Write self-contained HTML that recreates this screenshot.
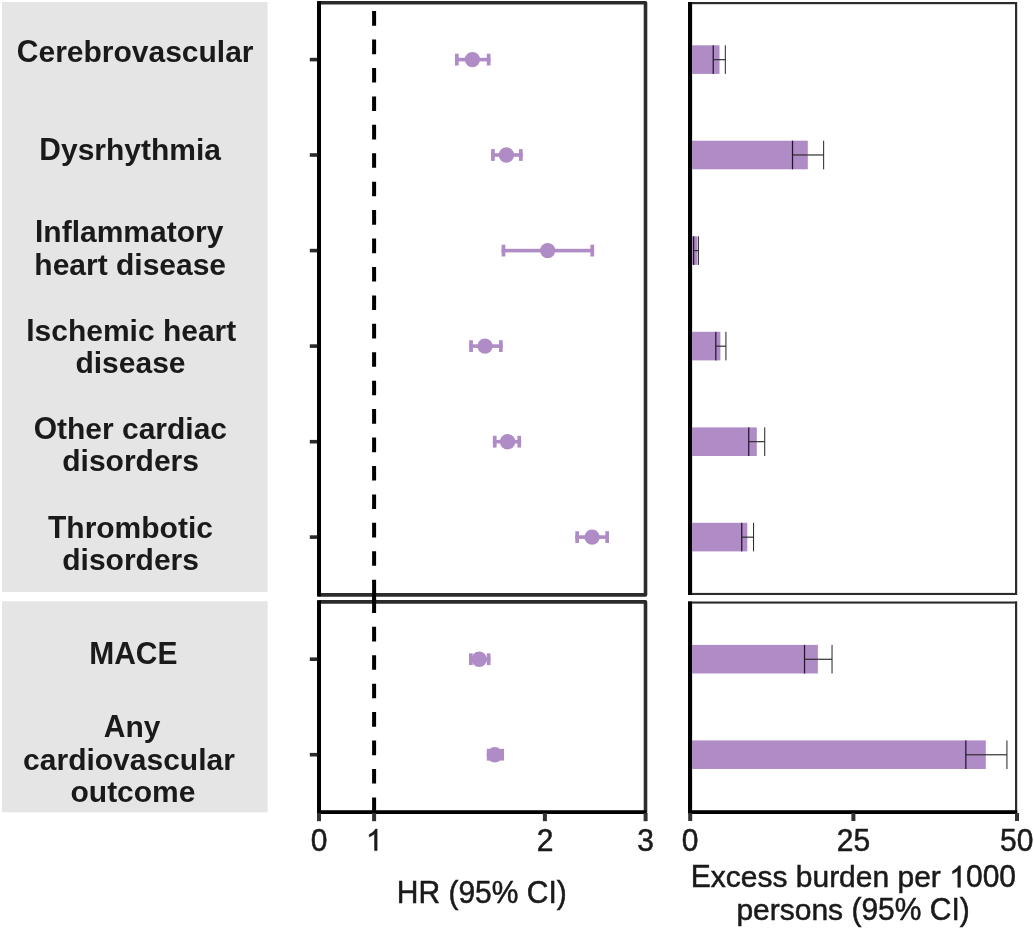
<!DOCTYPE html>
<html><head><meta charset="utf-8"><title>Chart</title>
<style>html,body{margin:0;padding:0;background:#fff}svg{display:block;will-change:transform}
.t text{font-family:"Liberation Sans",sans-serif;font-size:30px}
.t .r{stroke:#1a1a1a;stroke-width:0.5px}</style>
</head><body>
<svg width="1034" height="928" viewBox="0 0 1034 928">
<rect width="1034" height="928" fill="#fff"/>
<rect x="2" y="2" width="265.6" height="590" fill="#e5e5e5"/>
<rect x="2" y="601.3" width="265.6" height="211" fill="#e5e5e5"/>
<rect x="318.8" y="2.7" width="326.7" height="592.2" fill="none" stroke="#2b2b2b" stroke-width="3.6" stroke-linejoin="round"/>
<rect x="317" y="1.2" width="4" height="595.2" fill="#000"/>
<rect x="318.8" y="601.9" width="326.7" height="210.3" fill="none" stroke="#2b2b2b" stroke-width="3.6" stroke-linejoin="round"/>
<rect x="317" y="600.4" width="4" height="213.3" fill="#000"/>
<rect x="317.3" y="810.4" width="329" height="3.6" fill="#000"/>
<rect x="372.1" y="593" width="4" height="8" fill="#000"/>
<line x1="374.1" y1="11.1" x2="374.1" y2="595" stroke="#000" stroke-width="4" stroke-dasharray="14.6 13.83"/>
<line x1="374.1" y1="598.4" x2="374.1" y2="812" stroke="#000" stroke-width="4" stroke-dasharray="14.6 13.83"/>
<rect x="309.8" y="57.8" width="7.4" height="3.6" fill="#2b2b2b"/>
<rect x="309.8" y="153.2" width="7.4" height="3.6" fill="#2b2b2b"/>
<rect x="309.8" y="248.8" width="7.4" height="3.6" fill="#2b2b2b"/>
<rect x="309.8" y="344.3" width="7.4" height="3.6" fill="#2b2b2b"/>
<rect x="309.8" y="439.9" width="7.4" height="3.6" fill="#2b2b2b"/>
<rect x="309.8" y="535.3" width="7.4" height="3.6" fill="#2b2b2b"/>
<rect x="309.8" y="657.4" width="7.4" height="3.6" fill="#2b2b2b"/>
<rect x="309.8" y="752.9" width="7.4" height="3.6" fill="#2b2b2b"/>
<rect x="317.0" y="813" width="4" height="8.2" fill="#333"/>
<rect x="372.1" y="813" width="4" height="8.2" fill="#333"/>
<rect x="542.9" y="813" width="4" height="8.2" fill="#333"/>
<rect x="643.6" y="813" width="4" height="8.2" fill="#333"/>
<rect x="455.0" y="57.8" width="35.5" height="3.6" fill="#b08cc6"/>
<rect x="455.0" y="53.7" width="3.7" height="11.8" fill="#b08cc6"/>
<rect x="486.8" y="53.7" width="3.7" height="11.8" fill="#b08cc6"/>
<circle cx="472.4" cy="59.6" r="7.7" fill="#b08cc6"/>
<rect x="491.1" y="153.2" width="31.6" height="3.6" fill="#b08cc6"/>
<rect x="491.1" y="149.1" width="3.7" height="11.8" fill="#b08cc6"/>
<rect x="519.0" y="149.1" width="3.7" height="11.8" fill="#b08cc6"/>
<circle cx="506.4" cy="155.0" r="7.7" fill="#b08cc6"/>
<rect x="501.6" y="248.8" width="92.5" height="3.6" fill="#b08cc6"/>
<rect x="501.6" y="244.7" width="3.7" height="11.8" fill="#b08cc6"/>
<rect x="590.4" y="244.7" width="3.7" height="11.8" fill="#b08cc6"/>
<circle cx="547.7" cy="250.6" r="7.7" fill="#b08cc6"/>
<rect x="469.2" y="344.3" width="33.5" height="3.6" fill="#b08cc6"/>
<rect x="469.2" y="340.2" width="3.7" height="11.8" fill="#b08cc6"/>
<rect x="499.0" y="340.2" width="3.7" height="11.8" fill="#b08cc6"/>
<circle cx="485.0" cy="346.1" r="7.7" fill="#b08cc6"/>
<rect x="492.9" y="439.9" width="28.2" height="3.6" fill="#b08cc6"/>
<rect x="492.9" y="435.8" width="3.7" height="11.8" fill="#b08cc6"/>
<rect x="517.4" y="435.8" width="3.7" height="11.8" fill="#b08cc6"/>
<circle cx="507.6" cy="441.7" r="7.7" fill="#b08cc6"/>
<rect x="575.3" y="535.3" width="33.7" height="3.6" fill="#b08cc6"/>
<rect x="575.3" y="531.2" width="3.7" height="11.8" fill="#b08cc6"/>
<rect x="605.3" y="531.2" width="3.7" height="11.8" fill="#b08cc6"/>
<circle cx="592.1" cy="537.1" r="7.7" fill="#b08cc6"/>
<rect x="469.0" y="657.4" width="21.5" height="3.6" fill="#b08cc6"/>
<rect x="469.0" y="653.3" width="3.7" height="11.8" fill="#b08cc6"/>
<rect x="486.8" y="653.3" width="3.7" height="11.8" fill="#b08cc6"/>
<circle cx="479.2" cy="659.2" r="7.7" fill="#b08cc6"/>
<rect x="486.8" y="752.9" width="17.2" height="3.6" fill="#b08cc6"/>
<rect x="486.8" y="748.8" width="3.7" height="11.8" fill="#b08cc6"/>
<rect x="500.3" y="748.8" width="3.7" height="11.8" fill="#b08cc6"/>
<circle cx="494.8" cy="754.7" r="7.7" fill="#b08cc6"/>
<rect x="688" y="2" width="329" height="2.2" fill="#2b2b2b"/>
<rect x="1015" y="2" width="2.2" height="593" fill="#2b2b2b"/>
<rect x="688" y="592.9" width="329" height="2.1" fill="#2b2b2b"/>
<rect x="688" y="2" width="4.1" height="593" fill="#000"/>
<rect x="688" y="601.5" width="329" height="2.1" fill="#2b2b2b"/>
<rect x="1015" y="601.5" width="2.2" height="212.5" fill="#2b2b2b"/>
<rect x="688" y="601.5" width="4.1" height="212.5" fill="#000"/>
<rect x="688" y="810.2" width="329.2" height="3.8" fill="#000"/>
<rect x="688.2" y="813" width="4" height="8" fill="#333"/>
<rect x="851.4" y="813" width="4" height="8" fill="#333"/>
<rect x="1015.0" y="813" width="4" height="8" fill="#333"/>
<rect x="692" y="45.3" width="27.5" height="28.6" fill="#b08cc6"/>
<rect x="712.6" y="45.3" width="1.25" height="28.6" fill="#24152f"/>
<rect x="724.8" y="45.3" width="1.05" height="28.6" fill="#2e2e2e"/>
<rect x="713.2" y="59.1" width="12.1" height="1.15" fill="#2a2a2a"/>
<rect x="692" y="140.7" width="115.8" height="28.6" fill="#b08cc6"/>
<rect x="791.9" y="140.7" width="1.25" height="28.6" fill="#24152f"/>
<rect x="823.1" y="140.7" width="1.05" height="28.6" fill="#2e2e2e"/>
<rect x="792.5" y="154.4" width="31.1" height="1.15" fill="#2a2a2a"/>
<rect x="692" y="236.3" width="5.4" height="28.6" fill="#b08cc6"/>
<rect x="693.0" y="236.3" width="1.25" height="28.6" fill="#24152f"/>
<rect x="697.9" y="236.3" width="1.05" height="28.6" fill="#2e2e2e"/>
<rect x="693.6" y="250.0" width="4.8" height="1.15" fill="#2a2a2a"/>
<rect x="692" y="331.8" width="28.4" height="28.6" fill="#b08cc6"/>
<rect x="715.2" y="331.8" width="1.25" height="28.6" fill="#24152f"/>
<rect x="725.4" y="331.8" width="1.05" height="28.6" fill="#2e2e2e"/>
<rect x="715.8" y="345.6" width="10.1" height="1.15" fill="#2a2a2a"/>
<rect x="692" y="427.4" width="64.8" height="28.6" fill="#b08cc6"/>
<rect x="748.1" y="427.4" width="1.25" height="28.6" fill="#24152f"/>
<rect x="764.2" y="427.4" width="1.05" height="28.6" fill="#2e2e2e"/>
<rect x="748.7" y="441.1" width="16.0" height="1.15" fill="#2a2a2a"/>
<rect x="692" y="522.8" width="55.3" height="28.6" fill="#b08cc6"/>
<rect x="741.1" y="522.8" width="1.25" height="28.6" fill="#24152f"/>
<rect x="753.0" y="522.8" width="1.05" height="28.6" fill="#2e2e2e"/>
<rect x="741.7" y="536.6" width="11.8" height="1.15" fill="#2a2a2a"/>
<rect x="692" y="644.9" width="125.9" height="28.6" fill="#b08cc6"/>
<rect x="803.9" y="644.9" width="1.25" height="28.6" fill="#24152f"/>
<rect x="831.5" y="644.9" width="1.05" height="28.6" fill="#2e2e2e"/>
<rect x="804.5" y="658.7" width="27.5" height="1.15" fill="#2a2a2a"/>
<rect x="692" y="740.4" width="293.8" height="28.6" fill="#b08cc6"/>
<rect x="965.2" y="740.4" width="1.25" height="28.6" fill="#24152f"/>
<rect x="1006.4" y="740.4" width="1.05" height="28.6" fill="#2e2e2e"/>
<rect x="965.8" y="754.2" width="41.1" height="1.15" fill="#2a2a2a"/>
<g class="t" fill="#1a1a1a">
<text font-weight="bold" transform="translate(16.80 61.7) scale(1 1.04)">C</text>
<text font-weight="bold" transform="translate(38.46 61.7) scale(1 0.985)">erebrovascular</text>
<text font-weight="bold" transform="translate(39.33 159.8) scale(1 1.04)">D</text>
<text font-weight="bold" transform="translate(60.99 159.8) scale(1 0.985)">ysrhythmia</text>
<text font-weight="bold" transform="translate(35.00 241.8) scale(1 1.04)">I</text>
<text font-weight="bold" transform="translate(43.33 241.8) scale(1 0.985)">nflammatory</text>
<text font-weight="bold" transform="translate(34.31 274.5) scale(1 0.985)">heart disease</text>
<text font-weight="bold" transform="translate(26.25 340.5) scale(1 1.04)">I</text>
<text font-weight="bold" transform="translate(34.57 340.5) scale(1 0.985)">schemic heart</text>
<text font-weight="bold" transform="translate(75.45 373.0) scale(1 0.985)">disease</text>
<text font-weight="bold" transform="translate(33.69 439.2) scale(1 1.04)">O</text>
<text font-weight="bold" transform="translate(57.02 439.2) scale(1 0.985)">ther cardiac</text>
<text font-weight="bold" transform="translate(62.24 471.4) scale(1 0.985)">disorders</text>
<text font-weight="bold" transform="translate(48.00 537.5) scale(1 1.04)">T</text>
<text font-weight="bold" transform="translate(66.31 537.5) scale(1 0.985)">hrombotic</text>
<text font-weight="bold" transform="translate(62.24 569.7) scale(1 0.985)">disorders</text>
<text font-weight="bold" transform="translate(89.23 664.0) scale(1 1.04)">MACE</text>
<text font-weight="bold" transform="translate(103.86 737.3) scale(1 1.04)">A</text>
<text font-weight="bold" transform="translate(125.51 737.3) scale(1 0.985)">ny</text>
<text font-weight="bold" transform="translate(23.10 770.0) scale(1 0.985)">cardiovascular</text>
<text font-weight="bold" transform="translate(70.49 802.4) scale(1 0.985)">outcome</text>
<text class="r" transform="translate(310.66 850.6) scale(1 1.04)">0</text>
<path class="r" vector-effect="non-scaling-stroke" d="M763 0H583V1147Q518 1085 412.5 1023T223 930V1104Q373 1175 485.5 1275T645 1469H763Z" transform="translate(365.96 850.6) scale(0.014648 -0.014648)"/>
<text class="r" transform="translate(536.66 850.6) scale(1 1.04)">2</text>
<text class="r" transform="translate(637.26 850.6) scale(1 1.04)">3</text>
<text class="r" transform="translate(681.86 850.6) scale(1 1.04)">0</text>
<text class="r" transform="translate(836.71 850.6) scale(1 1.04)">25</text>
<text class="r" transform="translate(1000.01 850.6) scale(1 1.04)">50</text>
<text class="r" transform="translate(396.78 903.2) scale(1 1.04)">HR </text>
<text class="r" transform="translate(448.44 903.2) scale(1 1.04)">(95% </text>
<text class="r" transform="translate(526.82 903.2) scale(1 1.04)">CI)</text>
<text class="r" transform="translate(690.79 887.3) scale(1 1.04)">E</text>
<text class="r" transform="translate(710.79 887.3) scale(1 0.985)">xcess burden per </text>
<path class="r" vector-effect="non-scaling-stroke" d="M763 0H583V1147Q518 1085 412.5 1023T223 930V1104Q373 1175 485.5 1275T645 1469H763Z" transform="translate(949.26 887.3) scale(0.014648 -0.014648)"/>
<text class="r" transform="translate(965.95 887.3) scale(1 1.04)">000</text>
<text class="r" transform="translate(736.38 919.6) scale(1 0.985)">persons </text>
<text class="r" transform="translate(851.44 919.6) scale(1 1.04)">(95% </text>
<text class="r" transform="translate(929.80 919.6) scale(1 1.04)">CI)</text>
</g>
</svg>
</body></html>
